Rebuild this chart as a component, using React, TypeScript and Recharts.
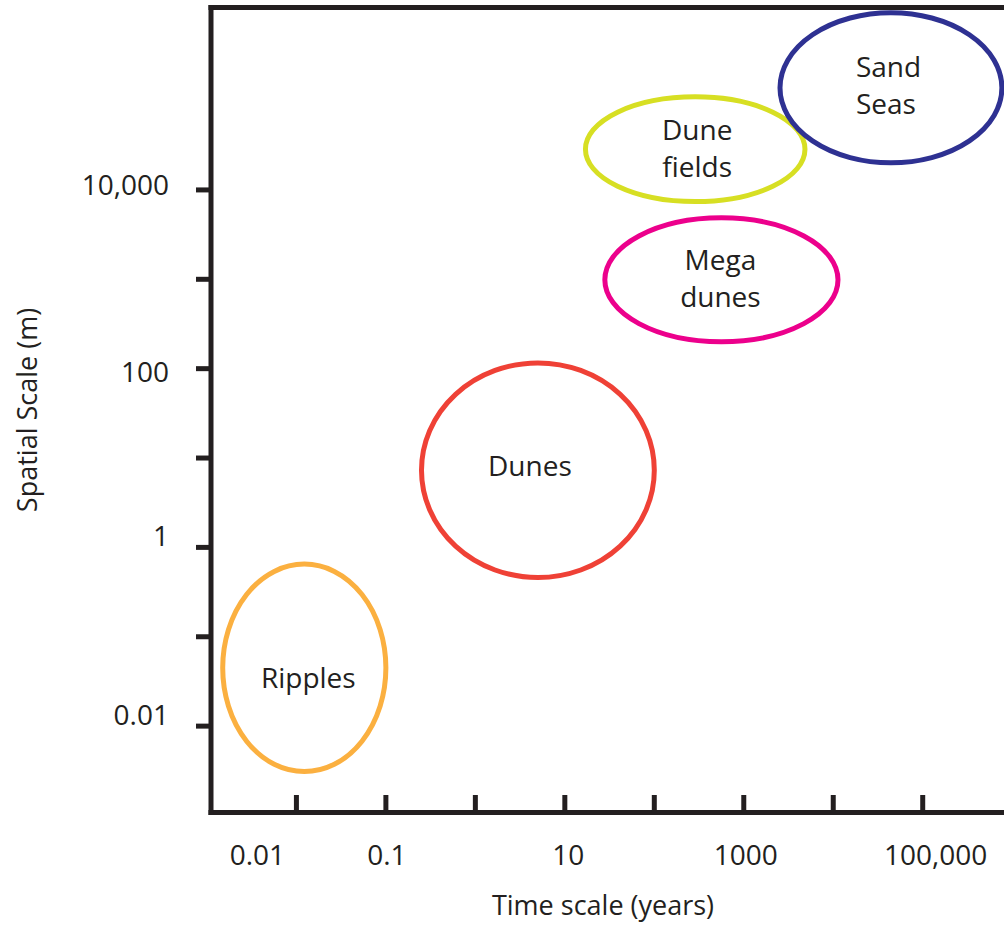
import * as React from "react";
import { ScatterChart, Scatter, XAxis, YAxis, ReferenceArea, ReferenceLine } from "recharts";

const FONT = '"Open Sans", "Noto Sans", sans-serif';
const INK = "#231f20";

// one tick per decade; empty strings are unlabeled ticks
const timeTicks = [0.01, 0.1, 1, 10, 100, 1000, 10000, 100000];
const timeTickLabels = ["0.01", "0.1", "", "10", "", "1000", "", "100,000"];
const spaceTicks = [0.01, 0.1, 1, 10, 100, 1000, 10000];
const spaceTickLabels = ["0.01", "", "1", "", "100", "", "10,000"];

// visible extent of the two log axes
const timeDomain = [0.00111, 810000];
const spaceDomain = [0.00108, 1100000];

// bedform envelopes: time span (years) x length span (m)
const bedforms = ["Ripples", "Dunes", "Mega dunes", "Dune fields", "Sand Seas"];
const bedformLines = [["Ripples"], ["Dunes"], ["Mega", "dunes"], ["Dune", "fields"], ["Sand", "Seas"]];
const timeMin = [0.0015, 0.25, 28, 17, 2540];
const timeMax = [0.1, 100, 11300, 4830, 767000];
const spaceMin = [0.0031, 0.46, 200, 7400, 20100];
const spaceMax = [0.65, 116, 4880, 110000, 961000];

// drawing style per bedform (colour, label nudge from ellipse centre)
const bedformStyle = [
  { color: "#fbb040", dx: 4, dy: 20, anchor: "middle" },
  { color: "#ef4136", dx: -8, dy: 6, anchor: "middle" },
  { color: "#ec008c", dx: -1, dy: -10, anchor: "middle" },
  { color: "#d7df23", dx: 2, dy: -9, anchor: "middle" },
  { color: "#2e3192", dx: -35, dy: -11, anchor: "start" },
];

const xLabelShift: Record<string, number> = { "0.01": -39, "0.1": 1, "10": 3.5, "1000": 2, "100,000": 13 };
const yLabelShift: Record<string, number> = { "0.01": -1, "1": -1, "100": 13, "10,000": 5 };

// envelope corners, only used so both axes see data
const corners = bedforms.flatMap((_, i) => [
  { t: timeMin[i], s: spaceMin[i] },
  { t: timeMax[i], s: spaceMax[i] },
]);

function findTick(ticks: number[], v: number) {
  return ticks.findIndex((t) => Math.abs(Math.log10(t) - Math.log10(v)) < 1e-6);
}

function TimeTick(props: any) {
  const { x, y, payload } = props;
  const text = timeTickLabels[findTick(timeTicks, payload.value)] ?? "";
  return (
    <g>
      <line x1={x} x2={x} y1={y} y2={y - 17.5} stroke={INK} strokeWidth={5} />
      {text ? (
        <text x={x + (xLabelShift[text] ?? 0)} y={y + 52.5} textAnchor="middle" fontFamily={FONT} fontSize={28} fill={INK}>
          {text}
        </text>
      ) : null}
    </g>
  );
}

function SpaceTick(props: any) {
  const { x, y, payload } = props;
  const text = spaceTickLabels[findTick(spaceTicks, payload.value)] ?? "";
  return (
    <g>
      <line x1={x} x2={x - 15} y1={y} y2={y} stroke={INK} strokeWidth={5} />
      {text ? (
        <text x={x - 42} y={y + (yLabelShift[text] ?? 0)} textAnchor="end" fontFamily={FONT} fontSize={28} fill={INK}>
          {text}
        </text>
      ) : null}
    </g>
  );
}

function XTitle(props: any) {
  const vb = props.viewBox ?? { x: 211, y: 812.5, width: 793, height: 113.5 };
  return (
    <text x={vb.x + vb.width / 2 - 4.5} y={vb.y + 102.5} textAnchor="middle" fontFamily={FONT} fontSize={27} fill={INK}>
      Time scale (years)
    </text>
  );
}

function YTitle(props: any) {
  const vb = props.viewBox ?? { x: 0, y: 7.5, width: 211, height: 805 };
  const tx = vb.x + 37;
  const ty = vb.y + vb.height / 2;
  return (
    <text x={tx} y={ty} transform={`rotate(-90, ${tx}, ${ty})`} textAnchor="middle" fontFamily={FONT} fontSize={27} fill={INK}>
      Spatial Scale (m)
    </text>
  );
}

function bedformShape(i: number) {
  return (props: any) => {
    const { x, y, width, height } = props;
    const cx = x + width / 2;
    const cy = y + height / 2;
    const st = bedformStyle[i];
    return (
      <g>
        <ellipse cx={cx} cy={cy} rx={width / 2} ry={height / 2} fill="none" stroke={st.color} strokeWidth={5} />
        <text y={cy + st.dy} textAnchor={st.anchor} fontFamily={FONT} fontSize={28} fill={INK}>
          {bedformLines[i].map((ln, k) => (
            <tspan key={k} x={cx + st.dx} dy={k === 0 ? 0 : 37}>
              {ln}
            </tspan>
          ))}
        </text>
      </g>
    );
  };
}

export default function App() {
  return (
    <div style={{ position: "absolute", left: 0, top: 0, width: 1004, height: 926, background: "#fff" }}>
      <ScatterChart width={1004} height={926} margin={{ top: 7.5, right: 0, bottom: 0, left: 0 }}>
        <XAxis
          type="number"
          dataKey="t"
          scale="log"
          domain={timeDomain}
          allowDataOverflow
          ticks={timeTicks}
          interval={0}
          height={113.5}
          tickSize={0}
          tickMargin={0}
          tickLine={false}
          tick={TimeTick}
          axisLine={{ stroke: INK, strokeWidth: 5, strokeLinecap: "square" }}
          label={XTitle}
        />
        <YAxis
          type="number"
          dataKey="s"
          scale="log"
          domain={spaceDomain}
          allowDataOverflow
          ticks={spaceTicks}
          interval={0}
          width={211}
          tickSize={0}
          tickMargin={0}
          tickLine={false}
          tick={SpaceTick}
          axisLine={{ stroke: INK, strokeWidth: 5, strokeLinecap: "square" }}
          label={YTitle}
        />
        <Scatter data={corners} shape={() => <g />} isAnimationActive={false} />
        <ReferenceLine y={spaceDomain[1]} stroke={INK} strokeWidth={5} strokeLinecap="square" ifOverflow="visible" />
        {bedforms.map((name, i) => (
          <ReferenceArea
            key={name}
            x1={timeMin[i]}
            x2={timeMax[i]}
            y1={spaceMin[i]}
            y2={spaceMax[i]}
            ifOverflow="visible"
            shape={bedformShape(i)}
          />
        ))}
      </ScatterChart>
    </div>
  );
}
